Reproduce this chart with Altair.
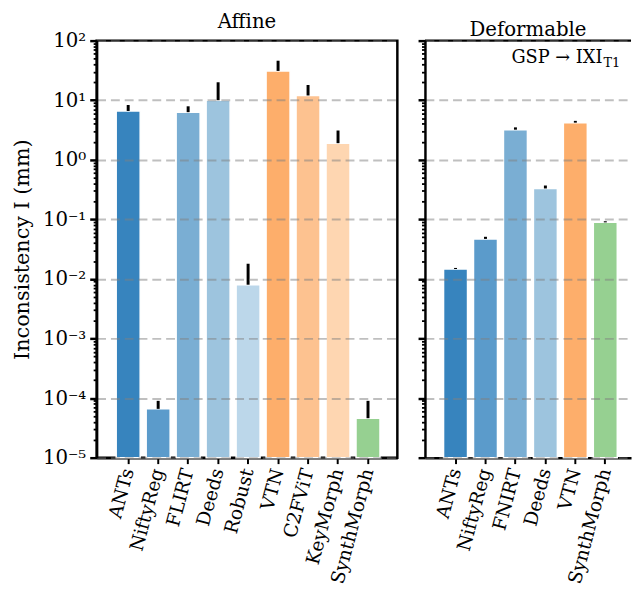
import altair as alt
import pandas as pd

# ---------------- data ----------------
aff_methods = ["ANTs", "NiftyReg", "FLIRT", "Deeds", "Robust", "VTN", "C2FViT", "KeyMorph", "SynthMorph"]
aff_values = [6.6, 6.6e-5, 6.3, 10.0, 8.0e-3, 31.0, 12.0, 1.9, 4.6e-5]
aff_err_top = [8.3, 9.0e-5, 7.9, 20.0, 1.8e-2, 46.0, 18.0, 3.1, 9.0e-5]
aff_colors = ["#3784be", "#5b9bcb", "#7aaed3", "#9dc4de", "#bcd7ea", "#fdae6b", "#fdc290", "#fed6b1", "#96d091"]

def_methods = ["ANTs", "NiftyReg", "FNIRT", "Deeds", "VTN", "SynthMorph"]
def_values = [0.0147, 0.047, 3.2, 0.33, 4.2, 0.089]
def_err_top = [0.0153, 0.051, 3.5, 0.37, 4.5, 0.093]
def_colors = ["#3784be", "#5b9bcb", "#7aaed3", "#9dc4de", "#fdae6b", "#96d091"]

panel_titles = ["Affine", "Deformable"]
y_title = "Inconsistency I (mm)"
ann_main = ["GSP → IXI"]
ann_sub = ["T1"]
y_min = 1e-5
y_max = 1e2
major_exps = list(range(-5, 3))
minor_mults = list(range(2, 10))

major_ticks = [10.0 ** e for e in major_exps]
minor_ticks = [m * 10.0 ** e for e in major_exps[:-1] for m in minor_mults]
all_ticks = sorted(major_ticks + minor_ticks)

aff_df = pd.DataFrame({"method": aff_methods, "value": aff_values, "err": aff_err_top,
                       "base": [y_min] * len(aff_methods)})
def_df = pd.DataFrame({"method": def_methods, "value": def_values, "err": def_err_top,
                       "base": [y_min] * len(def_methods)})

H = 423
W_L = 305
W_R = 209
FONT = "DejaVu Serif"
FS = 20

is_major = "abs(log(datum.value)/LN10 - round(log(datum.value)/LN10)) < 0.001"
sup = "['⁻⁵','⁻⁴','⁻³','⁻²','⁻¹','⁰','¹','²']"
label_expr = f"({is_major}) ? '10' + {sup}[round(log(datum.value)/LN10) + 5] : ''"

def y_axis(show_labels, title):
    kw = dict(
        values=all_ticks,
        labelExpr=label_expr,
        labelOverlap=False,
        labelFontSize=FS,
        labelPadding=4,
        tickSize={"condition": {"test": is_major, "value": 7}, "value": 3.5},
        tickWidth={"condition": {"test": is_major, "value": 2.5}, "value": 1.8},
        tickColor="black",
        domainColor="black",
        domainWidth=2.5,
        grid=True,
        gridColor="#7f7f7f",
        gridOpacity={"condition": {"test": is_major, "value": 0.5}, "value": 0},
        gridDash=[9, 5],
        gridWidth=2,
        zindex=1,
        labels=show_labels,
    )
    if title:
        kw["title"] = title
        kw["titleFontSize"] = 21
        kw["titleFontWeight"] = "normal"
        kw["titlePadding"] = 10
    else:
        kw["title"] = ""
    return alt.Axis(**kw)

x_axis = alt.Axis(title="", labelAngle=-75, labelFontSize=19, tickSize=6, tickWidth=2,
                  tickColor="black", domainColor="black", domainWidth=2.5, labelPadding=5)

def panel(df, methods, colors, po, align, show_labels, title):
    xs = alt.X("method:N", sort=methods, axis=x_axis,
               scale=alt.Scale(paddingInner=0.2, paddingOuter=po, align=align))
    ys = alt.Scale(type="log", domain=[y_min, y_max])
    bars = alt.Chart(df).mark_bar(stroke="white", strokeWidth=1.5).encode(
        x=xs,
        y=alt.Y("value:Q", scale=ys, axis=y_axis(show_labels, title)),
        y2="base:Q",
        color=alt.Color("method:N", scale=alt.Scale(domain=methods, range=colors), legend=None),
    )
    errs = alt.Chart(df).mark_rule(color="black", strokeWidth=3).encode(
        x=alt.X("method:N", sort=methods),
        y="value:Q",
        y2="err:Q",
    )
    return bars, errs

bL, eL = panel(aff_df, aff_methods, aff_colors, 0.616, 0.53, True, y_title)
left = alt.layer(bL, eL).properties(
    width=W_L, height=H,
    title=alt.TitleParams(panel_titles[0], fontSize=FS, fontWeight="normal", offset=-1),
)

bR, eR = panel(def_df, def_methods, def_colors, 0.54, 0.575, False, None)
ann_df = pd.DataFrame({"main": ann_main, "sub": ann_sub})
top_line = alt.Chart(ann_df).mark_rule(color="black", strokeWidth=2.5).encode(
    x=alt.value(0), x2=alt.value(W_R), y=alt.value(0)
)
t_main = alt.Chart(ann_df).mark_text(align="right", baseline="alphabetic", fontSize=18, font=FONT).encode(
    x=alt.value(180), y=alt.value(23), text="main:N"
)
t_sub = alt.Chart(ann_df).mark_text(align="left", baseline="alphabetic", fontSize=13, font=FONT).encode(
    x=alt.value(181), y=alt.value(27), text="sub:N"
)
right = alt.layer(bR, eR, top_line, t_main, t_sub).properties(
    width=W_R, height=H,
    title=alt.TitleParams(panel_titles[1], fontSize=FS, fontWeight="normal", offset=-1),
    view=alt.ViewBackground(strokeOpacity=0),
)

chart = alt.hconcat(left, right, spacing=17).resolve_scale(
    x="independent", color="independent"
).properties(
    padding={"left": 10, "top": 6, "right": 0, "bottom": 0},
).configure(font=FONT).configure_view(stroke="black", strokeWidth=2.5)

chart.save("out.html", embed_options={"renderer": "svg", "actions": False})
